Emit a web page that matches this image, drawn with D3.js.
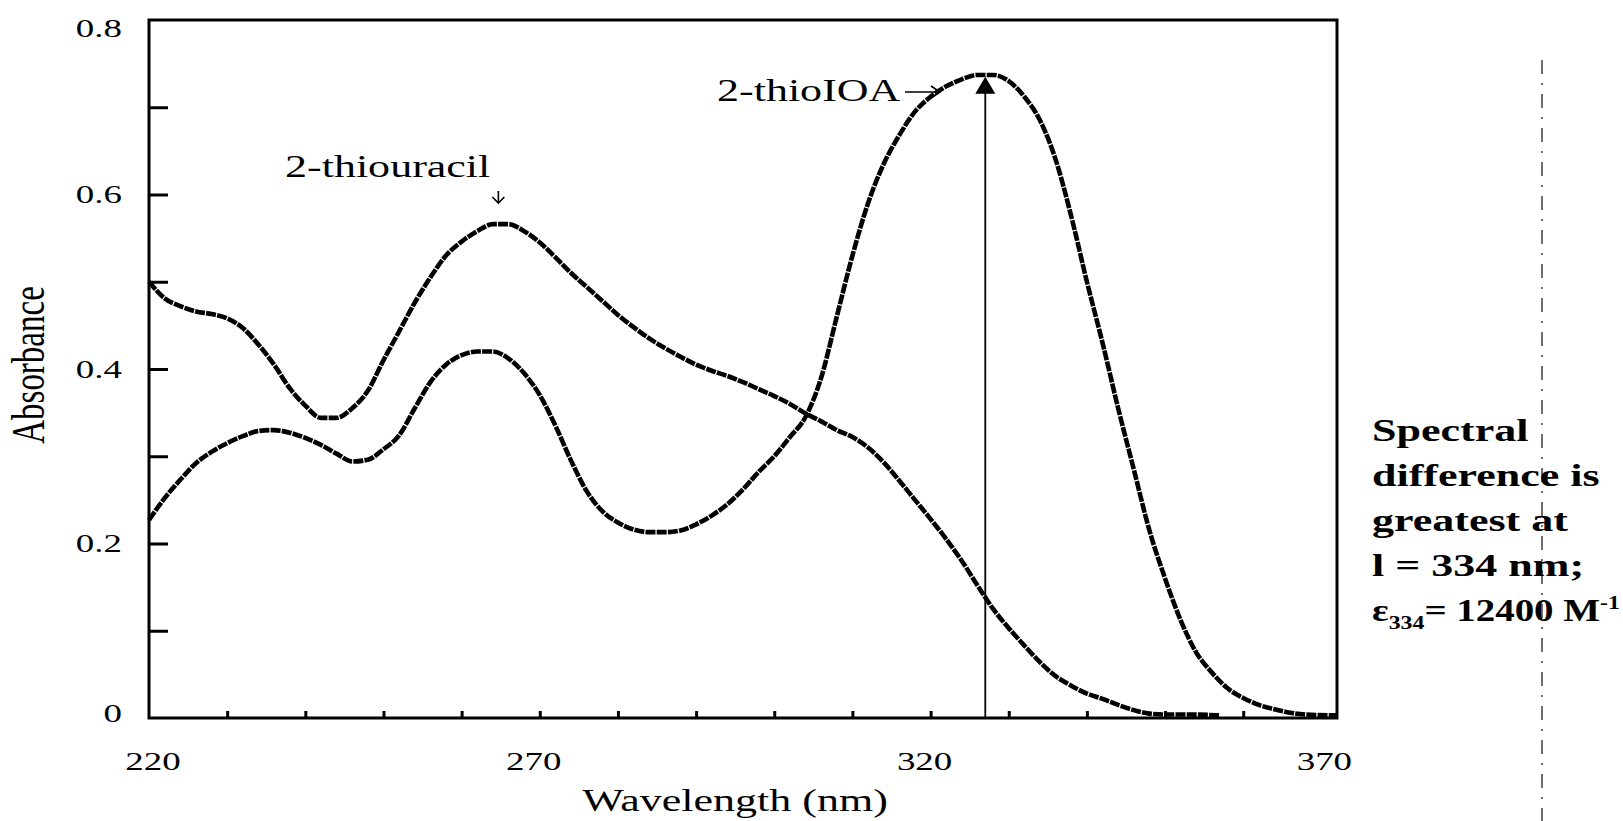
<!DOCTYPE html>
<html>
<head>
<meta charset="utf-8">
<title>Absorbance spectra: 2-thiouracil and 2-thioIOA</title>
<script src="https://cdn.jsdelivr.net/npm/d3@7"></script>
<style>
  html, body { margin: 0; padding: 0; background: #fff; }
  svg { display: block; }
  text { font-family: "Liberation Serif", "Times New Roman", serif; fill: #000; }
</style>
</head>
<body>
<svg id="chart" width="1623" height="821"></svg>
<script>
// ---- spectra (wavelength in nm, absorbance) ----
const thiouracilWavelength = [220, 222, 224, 226, 228, 230, 232, 234, 236, 238, 240, 242, 244, 246, 248, 250,
  252, 254, 256, 258, 260, 262, 264, 266, 268, 270, 272, 274, 276, 278, 280, 282, 284, 286, 288, 290,
  292, 294, 296, 298, 300, 302, 304, 306, 308, 310, 312, 314, 316, 318, 320, 322, 324, 326, 328, 330,
  332, 334, 336, 338, 340, 342, 344, 346, 348, 350, 353, 357];
const thiouracilAbsorbance = [0.500, 0.481, 0.472, 0.466, 0.463, 0.458, 0.447, 0.428, 0.405, 0.378, 0.358, 0.344, 0.344, 0.355, 0.375, 0.410,
  0.443, 0.476, 0.505, 0.530, 0.546, 0.558, 0.566, 0.566, 0.558, 0.545, 0.528, 0.510, 0.494, 0.478, 0.462, 0.448, 0.435, 0.424, 0.414, 0.405,
  0.398, 0.392, 0.385, 0.377, 0.369, 0.360, 0.349, 0.340, 0.330, 0.322, 0.310, 0.293, 0.272, 0.250, 0.228, 0.205, 0.180, 0.152, 0.125, 0.103,
  0.083, 0.064, 0.048, 0.037, 0.028, 0.022, 0.015, 0.009, 0.005, 0.004, 0.004, 0.003];

const thioIoaWavelength = [220, 222, 224, 226, 228, 230, 232, 234, 236, 238, 240, 242, 244, 246, 248, 250,
  252, 254, 256, 258, 260, 262, 264, 266, 268, 270, 272, 274, 276, 278, 280, 282, 284, 286, 288, 290,
  292, 294, 296, 298, 300, 302, 304, 306, 308, 310, 312, 314, 316, 318, 320, 322, 324, 326, 328, 330,
  332, 334, 336, 338, 340, 342, 344, 346, 348, 350, 352, 354, 356, 358, 360, 362, 364, 366, 368, 372];
const thioIoaAbsorbance = [0.227, 0.252, 0.273, 0.292, 0.305, 0.315, 0.323, 0.329, 0.330, 0.327, 0.321, 0.313, 0.303, 0.294, 0.296, 0.308,
  0.324, 0.355, 0.385, 0.405, 0.416, 0.420, 0.420, 0.412, 0.395, 0.370, 0.335, 0.295, 0.260, 0.237, 0.224, 0.216, 0.213, 0.213, 0.215, 0.222,
  0.232, 0.245, 0.262, 0.282, 0.300, 0.322, 0.345, 0.390, 0.460, 0.530, 0.590, 0.635, 0.668, 0.695, 0.712, 0.724, 0.732, 0.737, 0.737, 0.730,
  0.712, 0.685, 0.640, 0.575, 0.500, 0.430, 0.355, 0.285, 0.215, 0.160, 0.112, 0.075, 0.052, 0.034, 0.023, 0.015, 0.010, 0.006, 0.004, 0.003];

// ---- axes ----
const xMinorTicks = [230, 240, 250, 260, 270, 280, 290, 300, 310, 320, 330, 340, 350, 360];
const xTickLabels = [220, 270, 320, 370];
const yMinorTicks = [0.1, 0.2, 0.3, 0.4, 0.5, 0.6, 0.7];
const yTickLabels = [0, 0.2, 0.4, 0.6, 0.8];

// ---- annotations ----
const peakWavelength = 327;
const peakAbsorbance = 0.735;
const thiouracilPeakWavelength = 264.7;
const noteLines = ["Spectral", "difference is", "greatest at", "l = 334 nm;"];
const epsilonSubscript = "334";
const epsilonValue = "= 12400 M";
const epsilonExponent = "-1";

// ---- layout ----
const W = 1623, H = 821;
const plot = { left: 149, right: 1337, top: 20, bottom: 718 };
const SX = 1.42; // horizontal glyph stretch of the printed figure

const svg = d3.select("#chart");

const x = d3.scaleLinear().domain([220, 372]).range([plot.left, plot.right]);
const y = d3.scaleLinear().domain([0, 0.8]).range([plot.bottom, plot.top]);

// curves
const line = d3.line()
  .x(d => x(d[0]))
  .y(d => y(d[1]))
  .curve(d3.curveMonotoneX);

const series = [
  d3.zip(thiouracilWavelength, thiouracilAbsorbance),
  d3.zip(thioIoaWavelength, thioIoaAbsorbance)
];

svg.append("g")
  .selectAll("path")
  .data(series)
  .join("path")
  .attr("d", line)
  .attr("fill", "none")
  .attr("stroke", "#000")
  .attr("stroke-width", 4.6)
  .attr("stroke-dasharray", "10,1.2")
  .attr("stroke-linejoin", "round");

// inward minor ticks on the x axis
svg.append("g")
  .attr("transform", `translate(0,${plot.bottom})`)
  .call(d3.axisBottom(x).tickValues(xMinorTicks).tickSize(-7).tickFormat(""))
  .call(g => g.select(".domain").remove())
  .call(g => g.selectAll("line").attr("stroke", "#000").attr("stroke-width", 3));

// x tick labels
svg.append("g")
  .attr("transform", `translate(0,${plot.bottom})`)
  .call(d3.axisBottom(x).tickValues(xTickLabels).tickSize(0).tickPadding(0).tickFormat(d3.format("d")))
  .call(g => g.select(".domain").remove())
  .call(g => g.selectAll(".tick").attr("transform", d => `translate(${x(d) + (d === 220 ? 4 : d === 370 ? 3 : -6)},0)`))
  .call(g => g.selectAll("text")
    .attr("y", 52)
    .attr("dy", null)
    .attr("font-size", 26)
    .attr("font-family", "Liberation Serif, serif")
    .attr("fill", "#000")
    .attr("transform", `scale(${SX},1)`));

// inward ticks on the y axis
svg.append("g")
  .attr("transform", `translate(${plot.left},0)`)
  .call(d3.axisLeft(y).tickValues(yMinorTicks).tickSize(-19).tickFormat(""))
  .call(g => g.select(".domain").remove())
  .call(g => g.selectAll("line").attr("stroke", "#000").attr("stroke-width", 3));

// y tick labels
svg.append("g")
  .attr("transform", `translate(${plot.left},0)`)
  .call(d3.axisLeft(y).tickValues(yTickLabels).tickSize(0).tickPadding(0)
    .tickFormat(d => d === 0 ? "0" : d3.format(".1f")(d)))
  .call(g => g.select(".domain").remove())
  .call(g => g.selectAll("text")
    .attr("x", -27 / SX)
    .attr("dy", d => d === 0.8 ? "0.62em" : (d === 0 ? "0.12em" : "0.32em"))
    .attr("font-size", 26)
    .attr("font-family", "Liberation Serif, serif")
    .attr("fill", "#000")
    .attr("transform", `scale(${SX},1)`));

// axis titles
svg.append("text")
  .attr("transform", `translate(735,811) scale(${SX},1)`)
  .attr("text-anchor", "middle")
  .attr("font-size", 31)
  .text("Wavelength (nm)");

svg.append("text")
  .attr("transform", `translate(44,365) scale(${SX},1) rotate(-90)`)
  .attr("text-anchor", "middle")
  .attr("font-size", 33)
  .text("Absorbance");

// arrow marking the 2-thioIOA maximum
const ax = x(peakWavelength), ayTop = y(peakAbsorbance);
svg.append("line")
  .attr("x1", ax).attr("x2", ax)
  .attr("y1", y(0)).attr("y2", ayTop + 12)
  .attr("stroke", "#000").attr("stroke-width", 1.8);
svg.append("path")
  .attr("d", `M${ax},${ayTop} L${ax - 10},${ayTop + 17} L${ax + 10},${ayTop + 17} Z`)
  .attr("fill", "#000");

// curve labels with their pointers
svg.append("text")
  .attr("transform", `translate(717,101) scale(${SX},1)`)
  .attr("font-size", 31)
  .text("2-thioIOA");

svg.append("path")
  .attr("d", "M905,92 L939,92 M931,86 L940,92 L931,98")
  .attr("fill", "none").attr("stroke", "#000").attr("stroke-width", 1.6);

svg.append("text")
  .attr("transform", `translate(285,177) scale(${SX},1)`)
  .attr("font-size", 31)
  .text("2-thiouracil");

const tx = x(thiouracilPeakWavelength);
svg.append("path")
  .attr("d", `M${tx},191 L${tx},203 M${tx - 6},197 L${tx},203 L${tx + 6},197`)
  .attr("fill", "none").attr("stroke", "#000").attr("stroke-width", 1.6);

// frame
svg.append("rect")
  .attr("x", plot.left).attr("y", plot.top)
  .attr("width", plot.right - plot.left).attr("height", plot.bottom - plot.top)
  .attr("fill", "none").attr("stroke", "#000").attr("stroke-width", 3);

// dash-dot rule beside the note
svg.append("line")
  .attr("x1", 1542).attr("x2", 1542)
  .attr("y1", 60).attr("y2", H)
  .attr("stroke", "#222").attr("stroke-width", 1.3)
  .attr("stroke-dasharray", "14,9,2,9");

// side note
const note = svg.append("g").attr("font-weight", "bold").attr("font-size", 31);
const noteBase = 441, noteStep = 45;
noteLines.forEach((t, i) => {
  note.append("text")
    .attr("transform", `translate(1372,${noteBase + i * noteStep}) scale(${SX},1)`)
    .text(t);
});
const eps = note.append("text")
  .attr("transform", `translate(1372,${noteBase + 4 * noteStep})`);
eps.append("tspan").text("\u03b5");
eps.append("tspan").attr("font-size", 19).attr("dy", 8).text(epsilonSubscript);
eps.append("tspan").attr("dy", -8).text(epsilonValue);
eps.append("tspan").attr("font-size", 19).attr("dy", -12).text(epsilonExponent);
// stretch the last line to the printed width
const epsLen = eps.node().getComputedTextLength();
eps.attr("transform", `translate(1372,${noteBase + 4 * noteStep}) scale(${248 / epsLen},1)`);
</script>
</body>
</html>
